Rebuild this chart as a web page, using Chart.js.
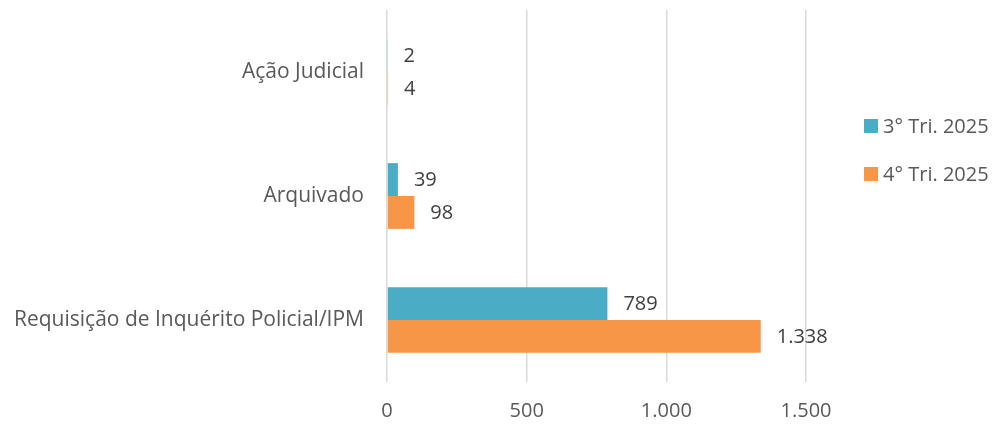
<!DOCTYPE html>
<html lang="pt">
<head>
    <meta charset="UTF-8">
    <title>Resultados por trimestre</title>
    <script src="https://cdn.jsdelivr.net/npm/chart.js"></script>
    <style>
        html, body {
            margin: 0;
            padding: 0;
            background: #ffffff;
        }
        #wrap {
            width: 999px;
            height: 426px;
            position: relative;
        }
    </style>
</head>
<body>
    <div id="wrap">
        <canvas id="chart"></canvas>
    </div>

    <script>
        // data
        const categories = ['Ação Judicial', 'Arquivado', 'Requisição de Inquérito Policial/IPM'];
        const seriesNames = ['3° Tri. 2025', '4° Tri. 2025'];
        const tri3 = [2, 39, 789];
        const tri4 = [4, 98, 1338];
        const xTicks = [0, 500, 1000, 1500];

        const colors = ['#4BACC6', '#F79646'];
        const fontFamily = "'Open Sans', 'Noto Sans', sans-serif";

        // 1338 -> "1.338"
        function fmt(v) {
            return String(v).replace(/\B(?=(\d{3})+(?!\d))/g, '.');
        }

        // value labels at the end of each bar
        const valueLabels = {
            id: 'valueLabels',
            afterDatasetsDraw(chart) {
                const ctx = chart.ctx;
                ctx.save();
                ctx.font = '20px ' + fontFamily;
                ctx.fillStyle = '#404040';
                ctx.textAlign = 'left';
                ctx.textBaseline = 'middle';
                chart.data.datasets.forEach((ds, i) => {
                    chart.getDatasetMeta(i).data.forEach((bar, j) => {
                        ctx.fillText(fmt(ds.data[j]), bar.x + 16, bar.y + 1);
                    });
                });
                ctx.restore();
            }
        };

        // legend on the right, stacked
        const sideLegend = {
            id: 'sideLegend',
            afterDraw(chart) {
                const ctx = chart.ctx;
                ctx.save();
                ctx.font = '20px ' + fontFamily;
                ctx.textBaseline = 'middle';
                chart.data.datasets.forEach((ds, i) => {
                    const y = 126 + i * 48;
                    ctx.fillStyle = ds.backgroundColor;
                    ctx.fillRect(864, y - 7, 14, 14);
                    ctx.fillStyle = '#595959';
                    ctx.fillText(ds.label, 883, y + 1);
                });
                ctx.restore();
            }
        };

        new Chart(document.getElementById('chart'), {
            type: 'bar',
            data: {
                labels: categories,
                datasets: [
                    { label: seriesNames[0], data: tri3, backgroundColor: colors[0] },
                    { label: seriesNames[1], data: tri4, backgroundColor: colors[1] }
                ]
            },
            options: {
                indexAxis: 'y',
                responsive: true,
                maintainAspectRatio: false,
                animation: false,
                datasets: {
                    bar: {
                        categoryPercentage: 0.53,
                        barPercentage: 1.0
                    }
                },
                layout: {
                    padding: { top: 10, right: 193, bottom: 0, left: 0 }
                },
                plugins: {
                    legend: { display: false },
                    tooltip: { enabled: false }
                },
                scales: {
                    x: {
                        min: 0,
                        max: 1500,
                        afterBuildTicks: (s) => { s.ticks = xTicks.map(v => ({ value: v })); },
                        afterFit: (s) => { s.height = 44; },
                        ticks: {
                            color: '#595959',
                            font: { family: fontFamily, size: 20 },
                            padding: 17,
                            callback: (v) => fmt(v)
                        },
                        grid: {
                            color: '#d9d9d9',
                            lineWidth: 1.5,
                            drawTicks: false
                        },
                        border: { display: false }
                    },
                    y: {
                        afterFit: (s) => {
                            s.width = 387;
                            s.paddingTop = 0;
                            s.paddingBottom = 0;
                        },
                        ticks: {
                            color: '#595959',
                            font: { family: fontFamily, size: 21 },
                            padding: 15
                        },
                        grid: { display: false },
                        border: { display: false }
                    }
                }
            },
            plugins: [valueLabels, sideLegend]
        });
    </script>
</body>
</html>
